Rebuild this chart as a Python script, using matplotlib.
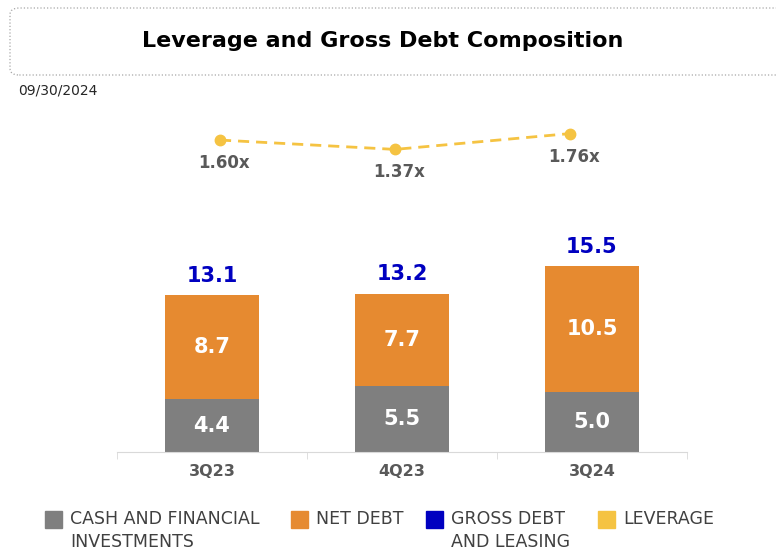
import numpy as np
import matplotlib.pyplot as plt
from matplotlib.patches import FancyBboxPatch, Rectangle

categories = ["3Q23", "4Q23", "3Q24"]
cash = [4.4, 5.5, 5.0]
net_debt = [8.7, 7.7, 10.5]
gross_debt = [13.1, 13.2, 15.5]
leverage = [1.60, 1.37, 1.76]

legend_labels = ["CASH AND FINANCIAL\nINVESTMENTS", "NET DEBT", "GROSS DEBT\nAND LEASING", "LEVERAGE"]

c_gray = "#7f7f7f"
c_orange = "#e68a30"
c_blue = "#0000c0"
c_yellow = "#f5c342"
c_text = "#595959"

W, H = 776, 554
fig = plt.figure(figsize=(W / 100, H / 100), dpi=100)

def px(x0, y0, x1, y1):
    # pixel box (top-left origin) -> figure fraction rect
    return [x0 / W, 1 - y1 / H, (x1 - x0) / W, (y1 - y0) / H]

# title box
box = FancyBboxPatch((10 / W, 1 - 75 / H), 800 / W, 67 / H,
                     boxstyle="round,pad=0,rounding_size=0.012",
                     transform=fig.transFigure, fill=False,
                     edgecolor="#a6a6a6", linestyle=":", linewidth=0.9)
fig.patches.append(box)
fig.text(383 / W, 1 - 41 / H, "Leverage and Gross Debt Composition",
         ha="center", va="center", fontsize=16, fontweight="bold", color="black")
fig.text(18 / W, 1 - 90 / H, "09/30/2024", ha="left", va="center",
         fontsize=10, color="#262626")

# bars
ax = fig.add_axes(px(117, 100, 687, 452))
x = np.arange(len(categories))
bw = 0.495
ax.bar(x, cash, bw, color=c_gray)
ax.bar(x, net_debt, bw, bottom=cash, color=c_orange)
ax.set_xlim(-0.5, 2.5)
ax.set_ylim(0, 352 / 12)

for i in range(len(categories)):
    ax.text(x[i], cash[i] / 2, f"{cash[i]:.1f}", ha="center", va="center",
            color="white", fontsize=15, fontweight="bold")
    ax.text(x[i], cash[i] + net_debt[i] / 2, f"{net_debt[i]:.1f}", ha="center",
            va="center", color="white", fontsize=15, fontweight="bold")
    ax.text(x[i], gross_debt[i] + 1.6, f"{gross_debt[i]:.1f}", ha="center",
            va="center", color=c_blue, fontsize=15, fontweight="bold")

for s in ["top", "right", "left"]:
    ax.spines[s].set_visible(False)
ax.spines["bottom"].set_color("#d9d9d9")
ax.set_yticks([])
ax.set_xticks(x)
ax.set_xticklabels(categories, fontsize=11.5, fontweight="bold", color=c_text)
ax.tick_params(axis="x", which="major", length=0, pad=9)
ax.set_xticks([-0.5, 0.5, 1.5, 2.5], minor=True)
ax.tick_params(axis="x", which="minor", length=5, color="#d9d9d9")

# leverage line (its own x scale: points sit a bit narrower than the bars)
ax2 = fig.add_axes(px(117, 100, 687, 452))
ax2.set_xlim(-103 / 175, -103 / 175 + 570 / 175)
ax2.set_ylim(1.37 - (452 - 149.4) / 40.6, 1.37 + (149.4 - 100) / 40.6)
ax2.plot(x, leverage, color=c_yellow, linewidth=2, linestyle=(0, (4, 2.5)),
         marker="o", markersize=7.5)
for i in range(len(categories)):
    ax2.annotate(f"{leverage[i]:.2f}x", (x[i], leverage[i]), xytext=(4, -23),
                 textcoords="offset pixels", ha="center", va="center",
                 fontsize=12, fontweight="bold", color=c_text)
ax2.axis("off")

# legend drawn by hand
leg_colors = [c_gray, c_orange, c_blue, c_yellow]
leg_x = [45, 291, 426, 598]
for lx, col, lab in zip(leg_x, leg_colors, legend_labels):
    fig.patches.append(Rectangle((lx / W, 1 - 528 / H), 17 / W, 17 / H,
                                 transform=fig.transFigure, color=col))
    fig.text((lx + 25) / W, 1 - 510 / H, lab, ha="left", va="top",
             fontsize=12.5, color="#404040", linespacing=1.35)

fig.savefig("out.png", dpi=100)
